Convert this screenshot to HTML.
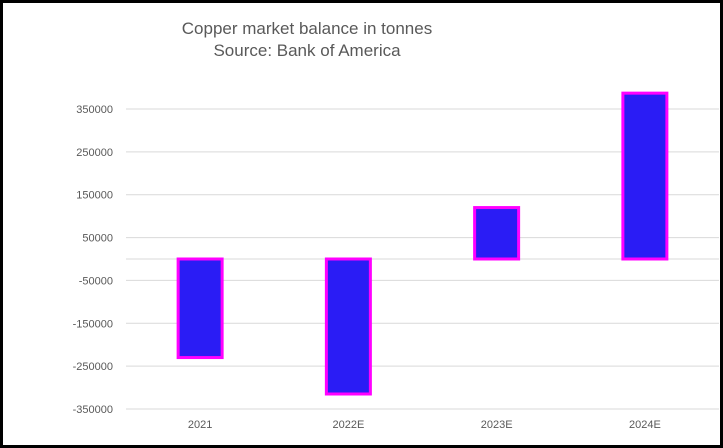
<!DOCTYPE html>
<html><head><meta charset="utf-8"><style>
body{margin:0;background:#fff}
#wrap{position:relative;width:723px;height:448px;box-sizing:border-box;border:3px solid #000;background:#fff;font-family:"Liberation Sans",sans-serif}
</style></head><body>
<div id="wrap">
<svg id="chart" width="717" height="442" style="position:absolute;left:0;top:0">
<text x="304" y="31" text-anchor="middle" font-size="17" fill="#595959">Copper market balance in tonnes</text>
<text x="304" y="53" text-anchor="middle" font-size="17" fill="#595959">Source: Bank of America</text>
</svg>
</div>
<script>
const categories=["2021","2022E","2023E","2024E"];
const values=[-230000,-315000,120000,387000];
const ticks=[350000,250000,150000,50000,-50000,-150000,-250000,-350000];
const ox=-3,oy=-3;
const plotL=126,plotR=719;
function y(v){return 259-v*300/700000+oy;}
function xc(i){const w=(plotR-plotL)/categories.length;return plotL+w*(i+0.5)+ox;}
const svg=document.getElementById('chart');
const NS='http://www.w3.org/2000/svg';
function mk(t,a){const e=document.createElementNS(NS,t);for(const k in a)e.setAttribute(k,a[k]);svg.appendChild(e);return e;}
ticks.forEach(t=>{
 const g=mk('line',{x1:plotL+ox,x2:plotR+ox,y1:y(t),y2:y(t),stroke:'#d9d9d9','stroke-width':1});
 
 
 const l=mk('text',{x:113+ox,y:y(t)+4,'text-anchor':'end','font-size':11,fill:'#595959'});
 l.textContent=t;
 
 
});
const z=mk('line',{x1:plotL+ox,x2:plotR+ox,y1:y(0),y2:y(0),stroke:'#d9d9d9','stroke-width':1});


categories.forEach((c,i)=>{
 const v=values[i];const top=y(Math.max(v,0)),bot=y(Math.min(v,0));
 const r=mk('rect',{x:xc(i)-22,y:top,width:44,height:bot-top,fill:'#2a1cf5',stroke:'#ff00ff','stroke-width':3});
 
 
 const t=mk('text',{x:xc(i),y:428+oy,'text-anchor':'middle','font-size':11,fill:'#595959'});
 t.textContent=c;
 
 
});
</script>
</body></html>
